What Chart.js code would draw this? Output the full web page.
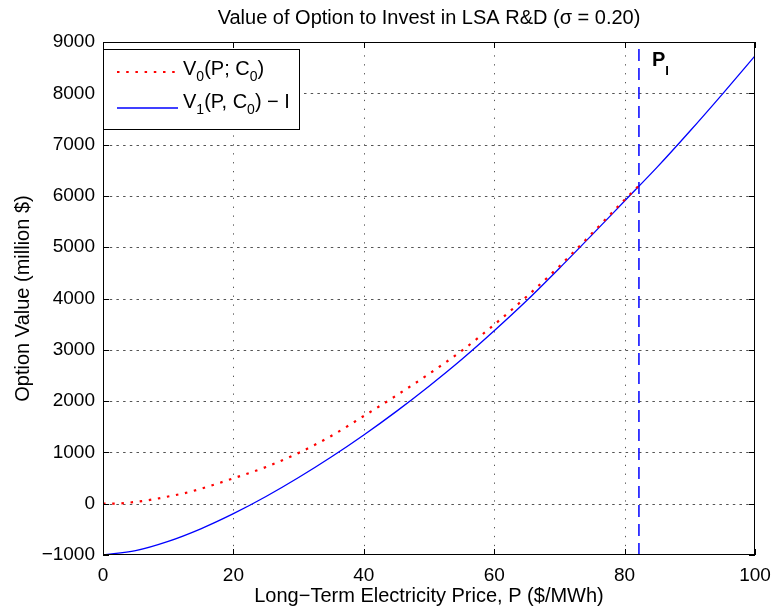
<!DOCTYPE html>
<html>
<head>
<meta charset="utf-8">
<title>Option to Invest</title>
<script src="https://cdn.jsdelivr.net/npm/chart.js@4/dist/chart.umd.min.js"></script>
<style>
    html, body { margin: 0; padding: 0; background: #fff; }
    #wrap { width: 774px; height: 610px; }
</style>
</head>
<body>
<div id="wrap"><canvas id="myChart" width="774" height="610"></canvas></div>
<script>
// electricity price grid ($/MWh) and exercise value V1(P, C0) - I (million $)
const priceP = [0, 5, 10, 15, 20, 25, 30, 35, 40, 45, 50, 55, 60, 65, 70, 75, 80, 85, 90, 95, 100];
const exerciseValue = [-1000, -915, -735, -490, -195, 140, 510, 910, 1340, 1800, 2290, 2810, 3370, 3960, 4590, 5240, 5900, 6560, 7260, 7985, 8730];

// value of waiting V0(P; C0), up to the trigger price
const waitPrice = [0, 2.5, 5, 7.5, 10, 12.5, 15, 17.5, 20, 25, 30, 35, 40, 45, 50, 55, 60, 65, 70, 75, 80, 82.2];
const waitValue = [0, 5, 35, 80, 140, 205, 290, 390, 495, 715, 990, 1320, 1710, 2110, 2530, 2980, 3490, 4040, 4630, 5270, 5925, 6200];

// investment trigger P_I
const triggerP = 82.2;

const xTicks = [0, 20, 40, 60, 80, 100];
const yTicks = [-1000, 0, 1000, 2000, 3000, 4000, 5000, 6000, 7000, 8000, 9000];

const FONT = '"Liberation Sans", Arial, Helvetica, sans-serif';

function toPoints (xs, ys) {
    return xs.map((x, i) => ({ x: x, y: ys[i] }));
}

function fmtTick (v) {
    return v < 0 ? '\u2212' + Math.abs(v) : String(v);
}

// text with a lowered, smaller run, e.g. V_0
function drawRuns (ctx, runs, x, y) {
    runs.forEach(r => {
        ctx.font = (r.bold ? 'bold ' : '') + r.size + 'px ' + FONT;
        ctx.fillText(r.text, x, y + (r.dy || 0));
        x += ctx.measureText(r.text).width;
    });
}

const matlabDecor = {
    id: 'matlabDecor',
    beforeDatasetsDraw (chart) {
        const { ctx, chartArea: a, scales: { x, y } } = chart;
        ctx.save();
        ctx.strokeStyle = '#555';
        ctx.lineWidth = 1;
        // dotted grid
        ctx.setLineDash([1.3, 7.6]);
        xTicks.forEach(t => {
            const px = Math.round(x.getPixelForValue(t)) + 0.5;
            if (t === xTicks[0] || t === xTicks[xTicks.length - 1]) return;
            ctx.beginPath();
            ctx.moveTo(px, a.bottom);
            ctx.lineTo(px, a.top);
            ctx.stroke();
        });
        ctx.setLineDash([2.5, 4.2]);
        yTicks.forEach(t => {
            const py = Math.round(y.getPixelForValue(t)) + 0.5;
            if (t === yTicks[0] || t === yTicks[yTicks.length - 1]) return;
            ctx.beginPath();
            ctx.moveTo(a.left, py);
            ctx.lineTo(a.right, py);
            ctx.stroke();
        });
        ctx.restore();
    },
    afterDraw (chart) {
        const { ctx, chartArea: a, scales: { x, y } } = chart;
        ctx.save();

        // frame and inward ticks
        ctx.strokeStyle = '#000';
        ctx.lineWidth = 1;
        ctx.strokeRect(a.left + 0.5, a.top + 0.5, a.right - a.left - 1, a.bottom - a.top - 1);
        const tl = 6;
        ctx.beginPath();
        xTicks.forEach(t => {
            const px = Math.round(x.getPixelForValue(t)) + 0.5;
            ctx.moveTo(px, a.bottom); ctx.lineTo(px, a.bottom - tl);
            ctx.moveTo(px, a.top); ctx.lineTo(px, a.top + tl);
        });
        yTicks.forEach(t => {
            const py = Math.round(y.getPixelForValue(t)) + 0.5;
            ctx.moveTo(a.left, py); ctx.lineTo(a.left + tl, py);
            ctx.moveTo(a.right, py); ctx.lineTo(a.right - tl, py);
        });
        ctx.stroke();

        ctx.fillStyle = '#000';
        ctx.textBaseline = 'middle';

        // title
        ctx.textAlign = 'center';
        ctx.font = '20px ' + FONT;
        ctx.fillText('Value of Option to Invest in LSA R&D (\u03c3 = 0.20)', (a.left + a.right) / 2, 18);

        // axis titles
        ctx.font = '20px ' + FONT;
        ctx.fillText('Long\u2212Term Electricity Price, P ($/MWh)', (a.left + a.right) / 2, a.bottom + 41);
        ctx.save();
        ctx.translate(23, (a.top + a.bottom) / 2);
        ctx.rotate(-Math.PI / 2);
        ctx.fillText('Option Value (million $)', 0, 0);
        ctx.restore();

        // trigger label
        ctx.textAlign = 'left';
        const tx = x.getPixelForValue(triggerP) + 13;
        drawRuns(ctx, [
            { text: 'P', size: 20, bold: true },
            { text: 'I', size: 13, bold: true, dy: 11 }
        ], tx, 60);

        // legend
        const lx = a.left, ly = a.top + 7, lw = 196, lh = 80;
        ctx.fillStyle = '#fff';
        ctx.fillRect(lx, ly, lw, lh);
        ctx.strokeStyle = '#000';
        ctx.strokeRect(lx + 0.5, ly + 0.5, lw, lh);

        ctx.strokeStyle = 'rgb(255, 0, 0)';
        ctx.lineWidth = 2.2;
        ctx.setLineDash([2.5, 6.7]);
        ctx.beginPath();
        ctx.moveTo(lx + 14, ly + 23); ctx.lineTo(lx + 72, ly + 23);
        ctx.stroke();

        ctx.strokeStyle = 'rgb(0, 0, 255)';
        ctx.lineWidth = 1.3;
        ctx.setLineDash([]);
        ctx.beginPath();
        ctx.moveTo(lx + 14, ly + 59); ctx.lineTo(lx + 75, ly + 59);
        ctx.stroke();

        ctx.fillStyle = '#000';
        drawRuns(ctx, [
            { text: 'V', size: 20 },
            { text: '0', size: 14, dy: 8 },
            { text: '(P; C', size: 20 },
            { text: '0', size: 14, dy: 8 },
            { text: ')', size: 20 }
        ], lx + 80, ly + 20);
        drawRuns(ctx, [
            { text: 'V', size: 20 },
            { text: '1', size: 14, dy: 8 },
            { text: '(P, C', size: 20 },
            { text: '0', size: 14, dy: 8 },
            { text: ') \u2212 I', size: 20 }
        ], lx + 80, ly + 53);

        ctx.restore();
    }
};

const data = {
    datasets: [{
        label: 'V0(P; C0)',
        data: toPoints(waitPrice, waitValue),
        borderColor: 'rgb(255, 0, 0)',
        borderWidth: 2.2,
        borderDash: [2.5, 6.7],
        cubicInterpolationMode: 'monotone',
        pointRadius: 0,
        fill: false
    }, {
        label: 'V1(P, C0) - I',
        data: toPoints(priceP, exerciseValue),
        borderColor: 'rgb(0, 0, 255)',
        borderWidth: 1.3,
        cubicInterpolationMode: 'monotone',
        pointRadius: 0,
        fill: false
    }, {
        label: 'P_I',
        data: [{ x: triggerP, y: yTicks[0] }, { x: triggerP, y: yTicks[yTicks.length - 1] }],
        borderColor: 'rgb(0, 0, 255)',
        borderWidth: 1.5,
        borderDash: [12, 7],
        pointRadius: 0,
        fill: false
    }]
};

const config = {
    type: 'line',
    data,
    options: {
        responsive: false,
        animation: false,
        layout: { padding: { top: 42, right: 19, left: 0, bottom: 0 } },
        plugins: {
            legend: { display: false },
            title: { display: false },
            tooltip: { enabled: false }
        },
        scales: {
            x: {
                type: 'linear',
                min: 0,
                max: 100,
                afterFit: s => { s.height = 55; s.paddingLeft = 0; s.paddingRight = 0; },
                afterBuildTicks: s => { s.ticks = xTicks.map(v => ({ value: v })); },
                grid: { display: false, drawTicks: false },
                border: { display: false },
                ticks: {
                    padding: 9,
                    color: '#000',
                    font: { family: FONT, size: 19 },
                    maxRotation: 0,
                    callback: v => fmtTick(v)
                }
            },
            y: {
                type: 'linear',
                min: -1000,
                max: 9000,
                afterFit: s => { s.width = 103; s.paddingTop = 0; s.paddingBottom = 0; },
                afterBuildTicks: s => { s.ticks = yTicks.map(v => ({ value: v })); },
                grid: { display: false, drawTicks: false },
                border: { display: false },
                ticks: {
                    padding: 8,
                    color: '#000',
                    font: { family: FONT, size: 19 },
                    callback: v => fmtTick(v)
                }
            }
        }
    },
    plugins: [matlabDecor]
};

const myChart = new Chart(document.getElementById('myChart'), config);
</script>
</body>
</html>
